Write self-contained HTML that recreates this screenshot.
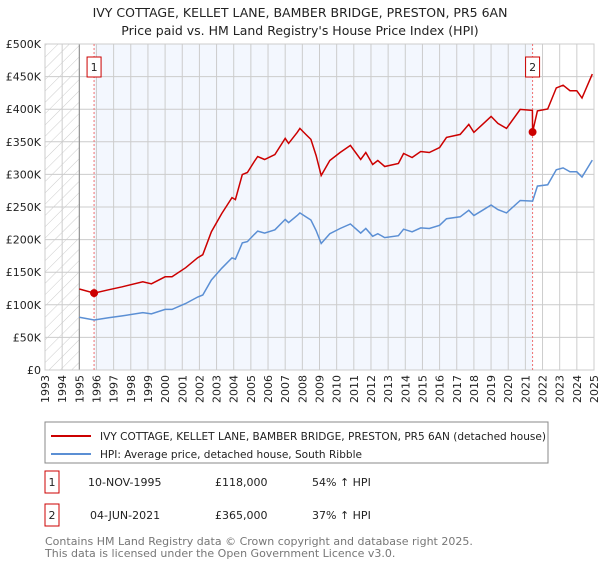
<!DOCTYPE html>
<html><head><meta charset="utf-8"><style>
body{margin:0;background:#fff;font-family:"DejaVu Sans","Liberation Sans",sans-serif;}
svg text{font-family:"DejaVu Sans","Liberation Sans",sans-serif;}
</style></head><body>
<svg id="c" width="600" height="560" xmlns="http://www.w3.org/2000/svg">
<defs><pattern id="hatch" width="8" height="8" patternUnits="userSpaceOnUse" patternTransform="rotate(45)"><line x1="0" y1="0" x2="0" y2="8" stroke="#ccc" stroke-width="1"/></pattern></defs>
<text x="300" y="17" text-anchor="middle" font-size="12.5" fill="#222">IVY COTTAGE, KELLET LANE, BAMBER BRIDGE, PRESTON, PR5 6AN</text>
<text x="300" y="35" text-anchor="middle" font-size="12.5" fill="#222">Price paid vs. HM Land Registry's House Price Index (HPI)</text>
<g id="plot"></g>
<g>
<rect x="45" y="422" width="503" height="41" fill="#fff" stroke="#888"/>
<line x1="51" y1="436" x2="91" y2="436" stroke="#cc0000" stroke-width="2"/>
<text x="100" y="440" font-size="10.5" fill="#222" textLength="446" lengthAdjust="spacingAndGlyphs">IVY COTTAGE, KELLET LANE, BAMBER BRIDGE, PRESTON, PR5 6AN (detached house)</text>
<line x1="51" y1="454" x2="91" y2="454" stroke="#5b8fd4" stroke-width="2"/>
<text x="100" y="458" font-size="10.5" fill="#222" textLength="262" lengthAdjust="spacingAndGlyphs">HPI: Average price, detached house, South Ribble</text>
</g>
<g font-size="11" fill="#222">
<rect x="45" y="471" width="14" height="22" fill="#fff" stroke="#cc0000"/><text x="52" y="486" text-anchor="middle">1</text>
<text x="88" y="486">10-NOV-1995</text><text x="215" y="486">£118,000</text><text x="312" y="486">54% ↑ HPI</text>
<rect x="45" y="504" width="14" height="22" fill="#fff" stroke="#cc0000"/><text x="52" y="519" text-anchor="middle">2</text>
<text x="90" y="519">04-JUN-2021</text><text x="215" y="519">£365,000</text><text x="312" y="519">37% ↑ HPI</text>
</g>
<text x="45" y="545" font-size="11" fill="#777">Contains HM Land Registry data © Crown copyright and database right 2025.</text>
<text x="45" y="557" font-size="11" fill="#777">This data is licensed under the Open Government Licence v3.0.</text>
</svg>
<script>
const hpiYears=[1995.0,1995.87,1996.7,1997.5,1998.7,1999.2,2000.0,2000.4,2001.2,2001.9,2002.2,2002.7,2003.3,2003.9,2004.1,2004.5,2004.8,2005.2,2005.4,2005.8,2006.4,2007.0,2007.2,2007.7,2007.86,2008.2,2008.5,2008.8,2009.1,2009.6,2010.2,2010.8,2011.4,2011.7,2012.1,2012.4,2012.8,2013.6,2013.9,2014.4,2014.9,2015.4,2016.0,2016.4,2017.2,2017.7,2018.0,2018.5,2019.0,2019.4,2019.9,2020.7,2021.42,2021.7,2022.3,2022.8,2023.2,2023.6,2024.0,2024.3,2024.9];
const hpiValues=[80.8,76.7,80,83,88,86,93,93,102,112,115,138,156,172,170,195,197,208,213,210,215,231,226,237,241,235,230,214,194,209,217,224,210,217,205,209,203,206,216,212,218,217,222,232,235,245,237,245,253,246,241,260,259,282,284,307,310,304,304,296,322];
const saleYears=[1995.86,2021.42];
const salePrices=[118,365];
const saleLabels=["1","2"];
const yTicks=[0,50,100,150,200,250,300,350,400,450,500];
const yTickLabels=["£0","£50K","£100K","£150K","£200K","£250K","£300K","£350K","£400K","£450K","£500K"];
const xTicks=[];for(let y=1993;y<=2025;y++)xTicks.push(y);

const X0=45,X1=594,Y0=370,Y1=44;
const xs=t=>X0+(t-1993)/32*(X1-X0);
const ys=v=>Y0-v/500*(Y0-Y1);
const NS="http://www.w3.org/2000/svg";
const g=document.getElementById('plot');
function mk(tag,attrs,parent){const e=document.createElementNS(NS,tag);for(const k in attrs)e.setAttribute(k,attrs[k]);(parent||g).appendChild(e);return e;}
function hpiAt(t){for(let i=0;i<hpiYears.length-1;i++){if(t<=hpiYears[i+1]){const f=(t-hpiYears[i])/(hpiYears[i+1]-hpiYears[i]);return hpiValues[i]+f*(hpiValues[i+1]-hpiValues[i]);}}return hpiValues[hpiValues.length-1];}

let r=mk('rect',{x:X0,y:Y1,width:xs(1995)-X0,height:Y0-Y1,fill:'url(#hatch)'});


r=mk('rect',{x:xs(saleYears[0]),y:Y1,width:xs(saleYears[1])-xs(saleYears[0]),height:Y0-Y1,fill:'#f3f7fe'});


xTicks.forEach((t,i)=>{const l=mk('line',{x1:xs(t),x2:xs(t),y1:Y1,y2:Y0,stroke:'#ccc'});


const px=xs(t)+4,py=Y0+5;
const tx=mk('text',{x:px,y:py,'text-anchor':'end','font-size':11,fill:'#222',transform:`rotate(-90 ${px} ${py})`});tx.textContent=t;

});
yTicks.forEach((v,i)=>{const l=mk('line',{x1:X0,x2:X1,y1:ys(v),y2:ys(v),stroke:'#ccc'});


const tx=mk('text',{x:X0-4,y:ys(v)+4,'text-anchor':'end','font-size':11,fill:'#222'});tx.textContent=yTickLabels[i];

});
let ax=mk('line',{x1:xs(1995),x2:xs(1995),y1:Y1,y2:Y0,stroke:'#888'});


ax=mk('rect',{x:X0,y:Y1,width:X1-X0,height:Y0-Y1,fill:'none',stroke:'#ccc'});


saleYears.forEach((t,i)=>{const l=mk('line',{x1:xs(t),x2:xs(t),y1:Y1,y2:Y0,stroke:'#f07070','stroke-dasharray':'2,2'});


const b=mk('rect',{x:xs(t)-7,y:57,width:14,height:20,fill:'#fff',stroke:'#cc0000'});


const tx=mk('text',{x:xs(t),y:71,'text-anchor':'middle','font-size':11,fill:'#222'});tx.textContent=saleLabels[i];

});
let d=hpiYears.map((t,i)=>(i?'L':'M')+xs(t).toFixed(1)+','+ys(hpiValues[i]).toFixed(1)).join('');
let p=mk('path',{d:d,fill:'none',stroke:'#5b8fd4','stroke-width':1.5});


const r1=salePrices[0]/hpiAt(saleYears[0]);const r2=salePrices[1]/hpiAt(saleYears[1]);
let pts=[];
hpiYears.forEach((t,i)=>{if(t<saleYears[1])pts.push([t,hpiValues[i]*r1]);});
pts.push([saleYears[1]-0.01,hpiAt(saleYears[1])*r1]);
pts.push([saleYears[1],salePrices[1]]);
hpiYears.forEach((t,i)=>{if(t>saleYears[1])pts.push([t,hpiValues[i]*r2]);});
d=pts.map((q,i)=>(i?'L':'M')+xs(q[0]).toFixed(1)+','+ys(q[1]).toFixed(1)).join('');
p=mk('path',{d:d,fill:'none',stroke:'#cc0000','stroke-width':1.5});


saleYears.forEach((t,i)=>{const c=mk('circle',{cx:xs(t),cy:ys(salePrices[i]),r:4,fill:'#cc0000'});

});
</script>
</body></html>
